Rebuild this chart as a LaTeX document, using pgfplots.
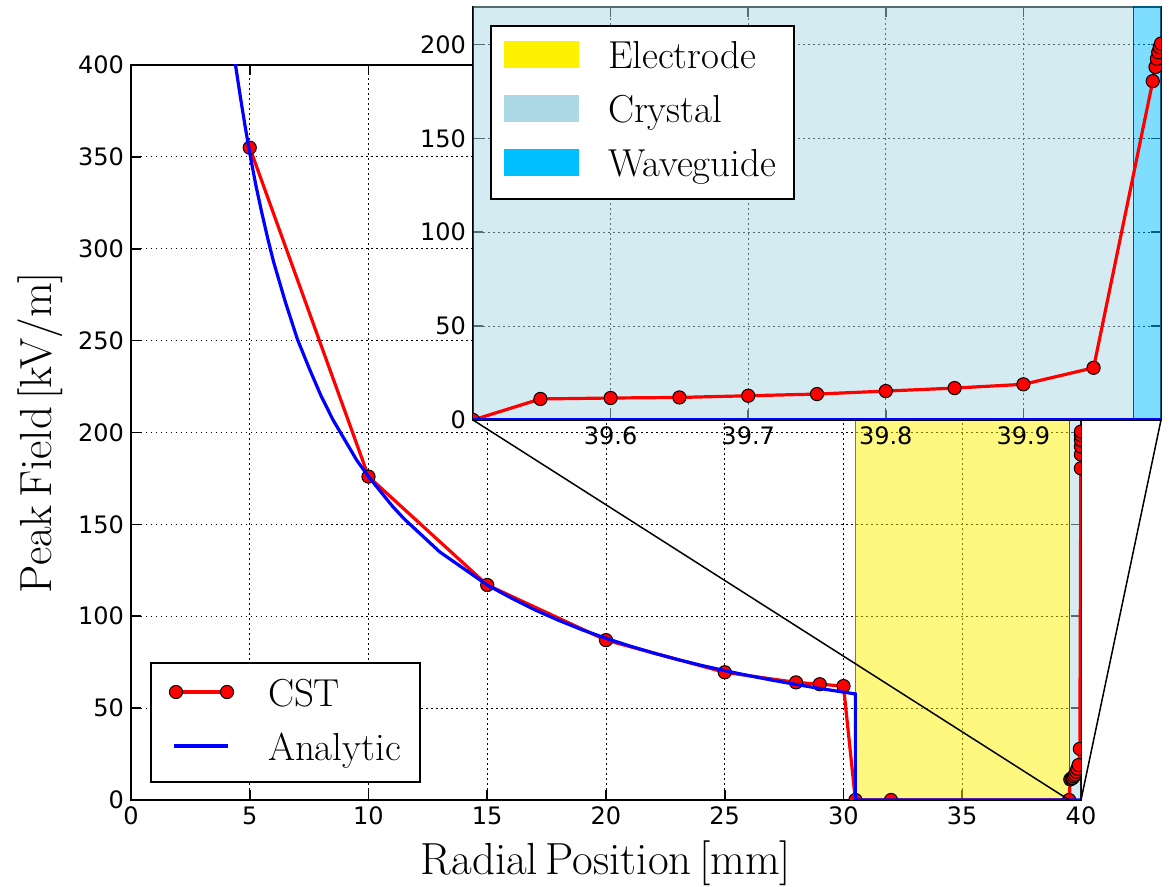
\documentclass[border=0pt]{standalone}
\usepackage{pgfplots}
\pgfplotsset{compat=1.18}
\usepackage{fontspec}
\newfontfamily\dejavu{DejaVu Sans}
\definecolor{lblue}{HTML}{ADD8E6}
\definecolor{dsblue}{HTML}{00BFFF}
\pgfplotsset{
  mystyle/.style={
    scale only axis,
    axis line style={black, line width=1pt},
    grid=major,
    grid style={black, line width=0.5pt, dash pattern=on 0.75pt off 1.75pt},
    tick style={black, line width=0.8pt},
    major tick length=5pt,
    tick label style={font=\fontsize{12}{14}\dejavu},
    /pgf/number format/assume math mode=true,
    clip marker paths=true,
    legend style={draw=black, line width=1pt, fill=white,
      inner xsep=6.5pt, inner ysep=2.75pt, row sep=0pt,
      font=\fontsize{19.5}{22}\selectfont,
      cells={anchor=west},
      nodes={inner sep=0pt, text height=14pt, text depth=0pt}},
  },
  cst/.style={red, line width=1.6pt, mark=*, mark size=3.3pt,
    mark options={fill=red, draw=black, line width=0.5pt}},
  ana/.style={blue, line width=1.6pt, mark=none},
}
\pgfplotstableread{
x y
5 355
10 176
15 117
20 87
25 69.5
28 64
29 63
30 62
30.5 0
32 0
39.5 0
39.549 11.2
39.6 11.7
39.65 12
39.7 12.9
39.75 13.8
39.8 15.4
39.85 17
39.9 19
39.951 27.8
39.994 180.5
39.996 188
39.997 192.4
39.998 195.9
39.999 198.6
40.0 200.5
}\cstdata
\pgfplotstableread{
x y
4.0 440
4.2 419
4.4 400
4.6 383
4.8 367
5.0 352
5.25 335
5.5 320
5.75 306
6 293
6.5 271
7 251
7.5 235
8 220
8.5 207
9 196
9.5 185
10 176
10.5 168
11 160
11.5 153
12 147
13 135
14 126
15 117
16 110
17 103.5
18 97.8
19 92.6
20 88
21 83.8
22 80
23 76.5
24 73.3
25 70.4
26 67.7
27 65.2
28 62.9
29 60.7
30 58.7
30.5 57.7
30.5 0
39 0
40 0
40.5 0
}\anadata
\begin{document}
\begin{tikzpicture}
\useasboundingbox (-65.5pt,-43.5pt) rectangle (521.5pt,400pt);
\begin{axis}[mystyle,
  at={(0pt,0pt)}, anchor=south west,
  width=475pt, height=367.5pt,
  xmin=0, xmax=40, ymin=0, ymax=400,
  xtick={0,5,...,40}, ytick={0,50,...,400},
  xlabel={Radial\,Position\,[mm]},
  ylabel={Peak\,Field\,[kV/m]},
  label style={font=\fontsize{22.5}{26}\selectfont},
  xlabel style={at={(axis description cs:0.5,0)}, anchor=base, yshift=-37.5pt},
  ylabel style={at={([xshift=-39.5pt]axis description cs:0,0.5)}, anchor=base},
  legend style={at={(0.02,0.0231)}, anchor=south west},
]
\addplot[draw=black, fill=yellow, opacity=0.5, forget plot] coordinates {(30.5,-100) (39.5,-100) (39.5,600) (30.5,600)} -- cycle;
\addplot[draw=black, fill=lblue, opacity=0.5, forget plot] coordinates {(39.5,-100) (39.98,-100) (39.98,600) (39.5,600)} -- cycle;
\addplot[draw=black, fill=dsblue, opacity=0.5, forget plot] coordinates {(39.98,-100) (40.5,-100) (40.5,600) (39.98,600)} -- cycle;
\addplot[cst, legend image code/.code={
    \draw[red, line width=1.6pt] (0pt,0pt) -- (25.5pt,0pt);
    \draw[fill=red, draw=black, line width=0.5pt] (0pt,0pt) circle[radius=3.3pt] (25.5pt,0pt) circle[radius=3.3pt];
    \path[draw=none, fill=none] (-6pt,-15.25pt) rectangle (46pt,11.75pt);}] table[x=x,y=y] {\cstdata};
\addlegendentry{CST}
\addplot[ana, legend image code/.code={
    \draw[blue, line width=1.6pt] (-1pt,0pt) -- (26pt,0pt);
    \path[draw=none, fill=none] (-6pt,-15.25pt) rectangle (46pt,11.75pt);}] table[x=x,y=y] {\anadata};
\addlegendentry{Analytic\hspace*{3pt}}
\coordinate (za) at (axis cs:39.5,0);
\coordinate (zb) at (axis cs:40,0);
\end{axis}
\draw[black, line width=0.75pt] (171pt,190pt) -- (za);
\draw[black, line width=0.75pt] (515pt,190pt) -- (zb);
\begin{axis}[mystyle,
  at={(171pt,190pt)}, anchor=south west,
  width=344pt, height=206.5pt,
  xmin=39.5, xmax=40, ymin=0, ymax=220,
  xtick={39.6,39.7,39.8,39.9}, ytick={0,50,...,200},
  xticklabels={39.6,39.7,39.8,39.9},
  axis background/.style={fill=white},
  legend style={at={(0.0247,0.9564)}, anchor=north west},
]
\addplot[draw=black, fill=yellow, opacity=0.5, legend image code/.code={
    \fill[yellow, opacity=1, draw=none] (0pt,-6.75pt) rectangle (37.5pt,6.75pt);
    \path[draw=none, fill=none] (0pt,-15.25pt) rectangle (52pt,11.75pt);}] coordinates {(39.2,-100) (39.5,-100) (39.5,600) (39.2,600)} -- cycle;
\addlegendentry{Electrode}
\addplot[draw=black, fill=lblue, opacity=0.5, legend image code/.code={
    \fill[lblue, opacity=1, draw=none] (0pt,-6.75pt) rectangle (37.5pt,6.75pt);
    \path[draw=none, fill=none] (0pt,-15.25pt) rectangle (52pt,11.75pt);}] coordinates {(39.5,-100) (39.98,-100) (39.98,600) (39.5,600)} -- cycle;
\addlegendentry{Crystal}
\addplot[draw=black, fill=dsblue, opacity=0.5, legend image code/.code={
    \fill[dsblue, opacity=1, draw=none] (0pt,-6.75pt) rectangle (37.5pt,6.75pt);
    \path[draw=none, fill=none] (0pt,-15.25pt) rectangle (52pt,11.75pt);}] coordinates {(39.98,-100) (40.5,-100) (40.5,600) (39.98,600)} -- cycle;
\addlegendentry{Waveguide\hspace*{2.5pt}}
\addplot[cst, forget plot, restrict x to domain=38.9:40.6] table[x=x,y=y] {\cstdata};
\addplot[ana, forget plot, restrict x to domain=38.9:40.6] table[x=x,y=y] {\anadata};
\end{axis}
\end{tikzpicture}
\end{document}
